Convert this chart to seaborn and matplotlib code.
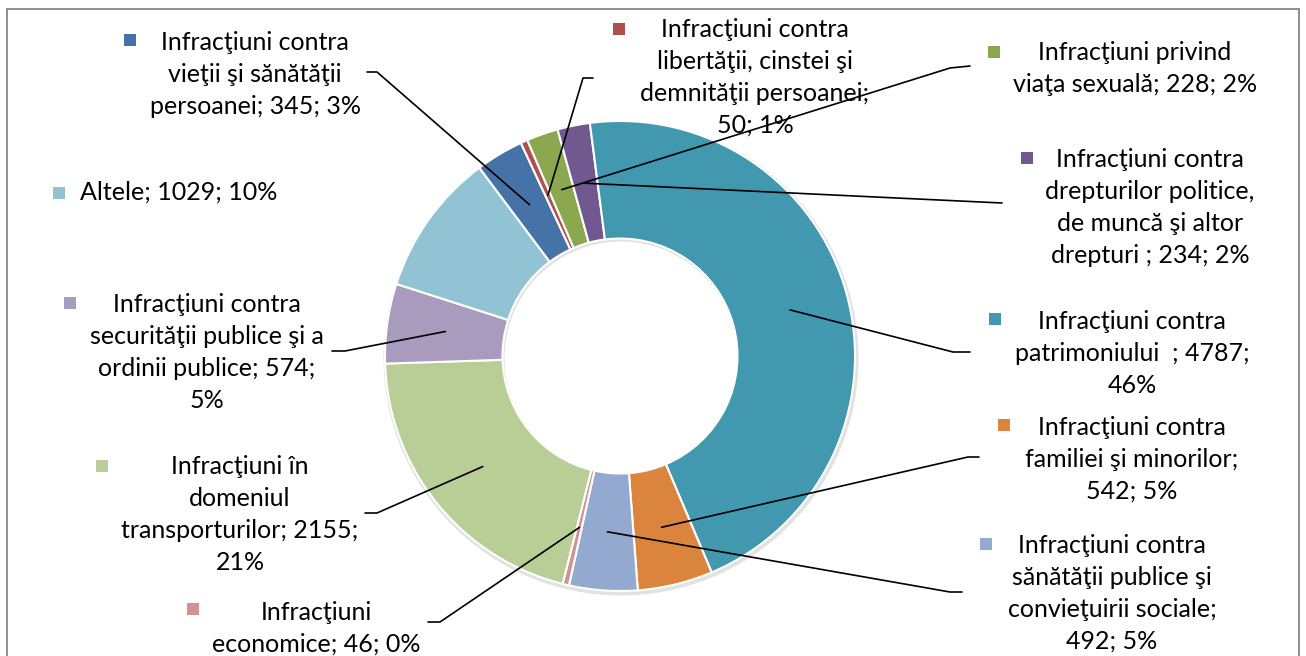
import numpy as np
import matplotlib
matplotlib.use("Agg")
import matplotlib.pyplot as plt
from matplotlib.patches import Rectangle
import seaborn as sns

# ---------------- data ----------------
categories = [
    "Infracţiuni contra vieţii şi sănătăţii persoanei",
    "Infracţiuni contra libertăţii, cinstei şi demnităţii persoanei",
    "Infracţiuni privind viaţa sexuală",
    "Infracţiuni contra drepturilor politice, de muncă şi altor drepturi ",
    "Infracţiuni contra patrimoniului  ",
    "Infracţiuni contra familiei şi minorilor",
    "Infracţiuni contra sănătăţii publice şi convieţuirii sociale",
    "Infracţiuni economice",
    "Infracţiuni în domeniul transporturilor",
    "Infracţiuni contra securităţii publice şi a ordinii publice",
    "Altele",
]
values = [345, 50, 228, 234, 4787, 542, 492, 46, 2155, 574, 1029]
percents = [3, 1, 2, 2, 46, 5, 5, 0, 21, 5, 10]

# wrapped label names (text wrapping as in the original)
wrapped = [
    "Infracţiuni contra\nvieţii şi sănătăţii\npersoanei",
    "Infracţiuni contra\nlibertăţii, cinstei şi\ndemnităţii persoanei",
    "Infracţiuni privind\nviaţa sexuală",
    "Infracţiuni contra\ndrepturilor politice,\nde muncă şi altor\ndrepturi ",
    "Infracţiuni contra\npatrimoniului  ",
    "Infracţiuni contra\nfamiliei şi minorilor",
    "Infracţiuni contra\nsănătăţii publice şi\nconvieţuirii sociale",
    "Infracţiuni\neconomice",
    "Infracţiuni în\ndomeniul\ntransporturilor",
    "Infracţiuni contra\nsecurităţii publice şi a\nordinii publice",
    "Altele",
]
sep1 = ["; ", ";\n", "; ", "; ", "; ", ";\n", ";\n", "; ", "; ", "; ", "; "]
sep2 = ["; ", "; ", "; ", "; ", ";\n", "; ", "; ", "; ", ";\n", ";\n", "; "]

colors = ["#4572A7", "#B0504D", "#8BA74F", "#71588F", "#4198AF", "#DB843D",
          "#93A9CF", "#D19392", "#B9CD96", "#A99BBD", "#92C3D4"]

# ---------------- layout (pixel coordinates) ----------------
W, H = 1306, 656
CX, CY, R_OUT, R_IN = 620, 356, 235, 117.5
START = 126.8

# label: (x, first baseline y, ha), marker centre (x, y)
label_pos = [
    (255, 50, "center"), (755, 37, "center"), (1135, 60, "center"),
    (1150, 167, "center"), (1132, 329, "center"), (1132, 435, "center"),
    (1112, 553, "center"), (316, 620, "center"), (240, 474, "center"),
    (207, 312, "center"), (80, 200, "left"),
]
marker_pos = [
    (130, 40), (619, 29), (994, 52), (1027, 158), (995, 319), (1004, 425),
    (986, 544), (193, 609), (102, 466), (70, 303), (59, 193),
]
# leader lines: elbow point and end point (None = no leader)
leaders = [
    ((377, 72), (367, 72)),
    ((583, 78), (593, 78)),
    ((950, 68), (970, 66)),
    ((1002, 203), (1002, 203)),
    ((953, 352), (970, 352)),
    ((968, 457), (979, 457)),
    ((950, 592), (962, 592)),
    ((440, 622), (428, 622)),
    ((377, 513), (365, 513)),
    ((345, 351), (332, 351)),
    None,
]
PITCH = 32

sns.set_theme(style="white")
plt.rcParams["font.family"] = ["Lato", "DejaVu Sans"]

fig = plt.figure(figsize=(W / 100, H / 100), dpi=100)
ax = fig.add_axes([0, 0, 1, 1])

def Y(py):
    return H - py

# faint shadow ring (outer edge only, subtle at inner edge)
shadow, _ = ax.pie([1], colors=["#e2e2e2"], radius=R_OUT + 2.5, center=(CX + 1, Y(CY) - 2),
                   wedgeprops=dict(width=R_OUT - R_IN + 3.5, edgecolor="none"))
for p in shadow:
    p.set_zorder(0)

wedges, _ = ax.pie(values, colors=colors, startangle=START, counterclock=False,
                   radius=R_OUT, center=(CX, Y(CY)),
                   wedgeprops=dict(width=R_OUT - R_IN, edgecolor="white", linewidth=1.5))

R_MID = (R_OUT + R_IN) / 2
for i, w in enumerate(wedges):
    w.set_zorder(1)
    # leader line
    if leaders[i] is not None:
        mid = np.deg2rad((w.theta1 + w.theta2) / 2)
        ax_x = CX + R_MID * np.cos(mid)
        ax_y = Y(CY) + R_MID * np.sin(mid)
        (ex, ey), (tx, ty) = leaders[i]
        ax.plot([ax_x, ex, tx], [ax_y, Y(ey), Y(ty)], color="black", lw=1.2,
                solid_capstyle="round", zorder=5)
    # label text
    text = f"{wrapped[i]}{sep1[i]}{values[i]}{sep2[i]}{percents[i]}%"
    x, b1, ha = label_pos[i]
    for k, line in enumerate(text.split("\n")):
        ax.text(x, Y(b1 + k * PITCH), line, ha=ha, va="baseline",
                fontsize=18, color="black", zorder=6)
    mx, my = marker_pos[i]
    ax.add_patch(Rectangle((mx - 6, Y(my) - 6), 12, 12, facecolor=colors[i],
                           edgecolor="none", zorder=6))

# chart border
ax.add_patch(Rectangle((6.5, Y(H + 10)), 1292, (H + 10) - 8.5, fill=False,
                       edgecolor="#868686", lw=1.3, zorder=7, clip_on=False))

ax.set_xlim(0, W)
ax.set_ylim(0, H)
ax.set_aspect("equal")
ax.axis("off")

fig.savefig("out.png", dpi=100, facecolor="white")
